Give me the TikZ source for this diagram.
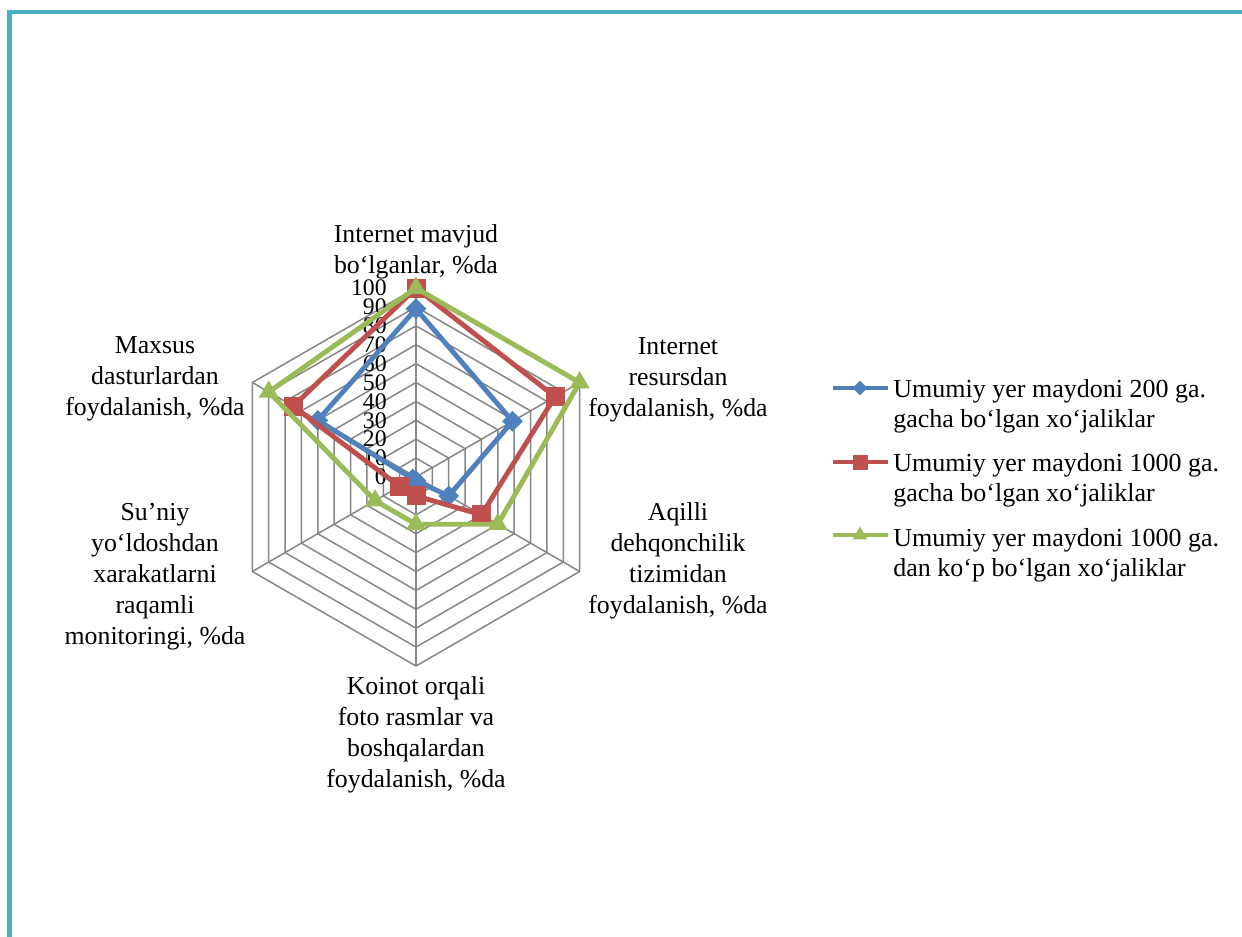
\documentclass[tikz,border=0pt]{standalone}
\usepackage{fontspec}
\setmainfont{Liberation Serif}
\usetikzlibrary{shapes.geometric}
\definecolor{framecol}{HTML}{4BACC6}
\definecolor{gridgray}{HTML}{868686}
\definecolor{serblue}{HTML}{4F81BD}
\definecolor{serred}{HTML}{C0504D}
\definecolor{sergreen}{HTML}{9BBB59}
\tikzset{
	frame/.style={draw=framecol,line width=2.8pt},
	gridline/.style={draw=gridgray,line width=0.85pt},
	serie/.style={draw=#1,line width=2.8pt,line join=round},
	bmark/.style={diamond,fill=serblue,inner sep=0pt,minimum size=0.42cm},
	rmark/.style={rectangle,fill=serred,inner sep=0pt,minimum size=0.38cm},
	gmark/.style={regular polygon,regular polygon sides=3,fill=sergreen,inner sep=0pt,minimum size=0.46cm},
	axlabel/.style={align=center,inner sep=0pt,font=\fontsize{14.7pt}{17.6pt}\selectfont},
	ticklabel/.style={anchor=east,inner sep=0pt,font=\fontsize{13.5pt}{16pt}\selectfont},
	legtext/.style={anchor=west,align=left,inner sep=0pt,font=\fontsize{14.8pt}{17pt}\selectfont}
}
\begin{document}
\begin{tikzpicture}[x=0.02cm,y=-0.02cm]
	\useasboundingbox (0,0) rectangle (1242,937);
	\draw[frame] (9.5,937) -- (9.5,12) -- (1242,12);

	\begin{scope}[shift={(416,477)},x=0.02cm,y=0.02cm]
		% grid
		\foreach \k in {1,...,10}{
			\draw[gridline] (90:\k*18.9) -- (30:\k*18.9) -- (-30:\k*18.9) -- (-90:\k*18.9) -- (-150:\k*18.9) -- (150:\k*18.9) -- cycle;
		}
		\foreach \a in {90,30,-30,-90,-150,150}
			\draw[gridline] (0,0) -- (\a:189);
		\foreach \v in {0,10,...,100}
			\node[ticklabel] (t\v) at (-29,\v*1.89) {\v};

		% axis labels
		\node[axlabel] (lab0) at (0,225) {Internet mavjud\\bo‘lganlar, \%da};
		\node[axlabel] (lab1) at (262,97) {Internet\\resursdan\\foydalanish, \%da};
		\node[axlabel] (lab2) at (262,-84) {Aqilli\\dehqonchilik\\tizimidan\\foydalanish, \%da};
		\node[axlabel] (lab3) at (0,-258) {Koinot orqali\\foto rasmlar va\\boshqalardan\\foydalanish, \%da};
		\node[axlabel] (lab4) at (-261,-100) {Su’niy\\yo‘ldoshdan\\xarakatlarni\\raqamli\\monitoringi, \%da};
		\node[axlabel] (lab5) at (-261,98) {Maxsus\\dasturlardan\\foydalanish, \%da};

		% data, 1 unit = 1%
		\begin{scope}[x=0.0378cm,y=0.0378cm]
			\coordinate (b0) at (90:89);
			\coordinate (b1) at (30:59);
			\coordinate (b2) at (-30:20);
			\coordinate (b3) at (-90:2);
			\coordinate (b4) at (-150:2);
			\coordinate (b5) at (150:60);

			\coordinate (r0) at (90:100);
			\coordinate (r1) at (30:85);
			\coordinate (r2) at (-30:40);
			\coordinate (r3) at (-90:10);
			\coordinate (r4) at (-150:10);
			\coordinate (r5) at (150:75);

			\coordinate (g0) at (90:100);
			\coordinate (g1) at (30:100);
			\coordinate (g2) at (-30:50);
			\coordinate (g3) at (-90:25);
			\coordinate (g4) at (-150:25);
			\coordinate (g5) at (150:90);
		\end{scope}

		\draw[serie=serblue] (b0) -- (b1) -- (b2) -- (b3) -- (b4) -- (b5) -- cycle;
		\foreach \i in {0,...,5}
			\node[bmark] (bm\i) at (b\i) {};
		\draw[serie=serred] (r0) -- (r1) -- (r2) -- (r3) -- (r4) -- (r5) -- cycle;
		\foreach \i in {0,...,5}
			\node[rmark] (rm\i) at (r\i) {};
		\draw[serie=sergreen] (g0) -- (g1) -- (g2) -- (g3) -- (g4) -- (g5) -- cycle;
		\foreach \i in {0,...,5}
			\node[gmark] (gm\i) at (g\i) {};
	\end{scope}

	% legend
	\coordinate (la1) at (833,388);
	\coordinate (la2) at (888,388);
	\draw[serie=serblue] (la1) -- (la2);
	\node[bmark,minimum size=0.3cm] (lma) at (860,388) {};
	\node[legtext] (lega) at (893,406) {Umumiy yer maydoni 200 ga.\\gacha bo‘lgan xo‘jaliklar};

	\coordinate (lb1) at (833,462);
	\coordinate (lb2) at (888,462);
	\draw[serie=serred] (lb1) -- (lb2);
	\node[rmark,minimum size=0.3cm] (lmb) at (860,462) {};
	\node[legtext] (legb) at (893,480) {Umumiy yer maydoni 1000 ga.\\gacha bo‘lgan xo‘jaliklar};

	\coordinate (lc1) at (833,535);
	\coordinate (lc2) at (888,535);
	\draw[serie=sergreen] (lc1) -- (lc2);
	\node[gmark,minimum size=0.34cm] (lmc) at (860,535) {};
	\node[legtext] (legc) at (893,555) {Umumiy yer maydoni 1000 ga.\\dan ko‘p bo‘lgan xo‘jaliklar};
\end{tikzpicture}
\end{document}
